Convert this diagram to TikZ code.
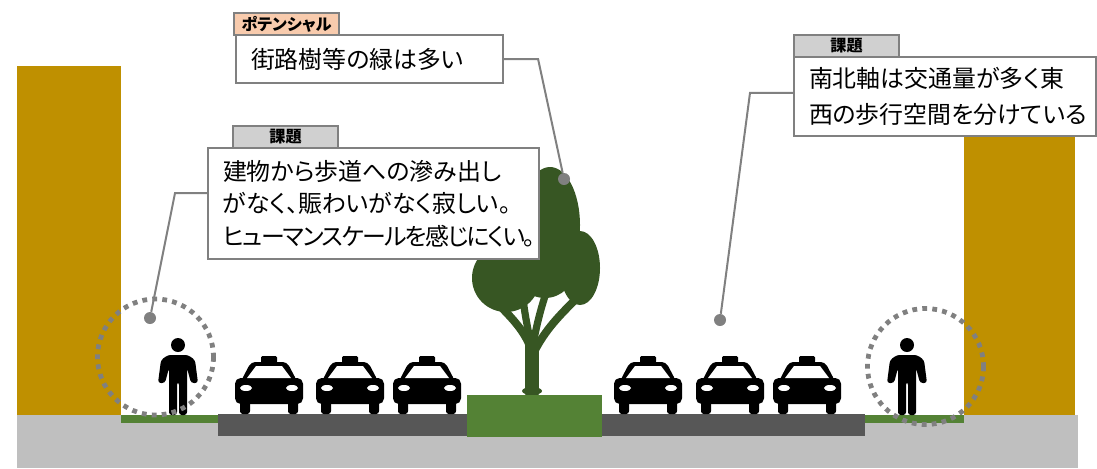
\documentclass[tikz,border=0pt]{standalone}
\usepackage{fontspec}
\newfontfamily\jpfont[RawFeature=+palt]{Noto Sans CJK JP}
\usepackage{tikz}
\usetikzlibrary{positioning}

\definecolor{wall}{HTML}{BF9000}
\definecolor{pave}{HTML}{BFBFBF}
\definecolor{asphalt}{HTML}{575757}
\definecolor{verge}{HTML}{548235}
\definecolor{foliage}{HTML}{375623}
\definecolor{leader}{HTML}{808080}
\definecolor{tagorange}{HTML}{F8CBAD}
\definecolor{taggray}{HTML}{D0D0D0}

\tikzset{
  note/.style={draw=leader, line width=0.05cm, fill=white, anchor=north west, align=left,
    inner xsep=0.375cm, inner ysep=0pt, font=\jpfont\fontsize{17}{23}\selectfont},
  tag/.style={draw=leader, line width=0.05cm, minimum width=2.625cm, minimum height=0.55cm,
    inner sep=0pt, font=\jpfont\bfseries\fontsize{11.5}{12}\selectfont},
  spot/.style={circle, fill=leader, minimum size=0.3cm, inner sep=0pt},
  leaderline/.style={draw=leader, line width=0.05cm},
  ring/.style={draw=leader, line width=0.12cm, dash pattern=on 0.12cm off 0.13cm},
  branch/.style={draw=foliage, line cap=round},
  pics/person/.style={code={
    \fill (0,-70) circle (7);
    \fill[rounded corners=2pt] (-9,0) -- (-9,-47) -- (-13,-32) -- (-20,-32) -- (-17,-55)
      -- (-10,-60) -- (10,-60) -- (17,-55) -- (20,-32) -- (13,-32) -- (9,-47) -- (9,0)
      -- (1,0) -- (1,-33) -- (-1,-33) -- (-1,0) -- cycle;
  }},
  pics/taxi/.style={code={
    \fill[rounded corners=1pt] (-8,-51) rectangle (8,-58);
    \fill[rounded corners=3pt] (-28,-33) -- (-18,-52) -- (18,-52) -- (28,-33) -- cycle;
    \fill[rounded corners=4pt] (-34,-10) rectangle (34,-36);
    \fill[rounded corners=2pt] (-29,0) rectangle (-19,-14);
    \fill[rounded corners=2pt] (19,0) rectangle (29,-14);
    \fill[white] (-22,-36) -- (-13,-48) -- (13,-48) -- (22,-36) -- cycle;
    \fill[white] (-23,-26) ellipse (6 and 3);
    \fill[white] (23,-26) ellipse (6 and 3);
  }}
}

\begin{document}
\begin{tikzpicture}[x=0.025cm, y=-0.025cm]
\useasboundingbox (0,0) rectangle (1097,468);

% ground, buildings and road
\fill[pave] (17,415) rectangle (1078,468);
\fill[wall] (17,66) rectangle (121,415);
\fill[wall] (964,120) rectangle (1075,415);
\fill[verge] (121,415) rectangle (219,423);
\fill[verge] (865,415) rectangle (964,423);
\fill[asphalt] (218,414) rectangle (467,436);
\fill[asphalt] (601,414) rectangle (865,436);

% street tree
\fill[foliage] (550,225) ellipse (30 and 58);
\fill[foliage] (580,268) ellipse (20 and 37);
\fill[foliage] (506,278) ellipse (34 and 34);
\fill[foliage] (545,268) ellipse (30 and 30);
\draw[branch, line width=0.35cm] (532,393) -- (532,345);
\draw[branch, line width=0.2cm] (532,352) .. controls (526,332) and (512,318) .. (496,302);
\draw[branch, line width=0.18cm] (531,345) .. controls (527,325) and (524,310) .. (522,290);
\draw[branch, line width=0.18cm] (533,345) .. controls (537,322) and (542,305) .. (547,290);
\draw[branch, line width=0.2cm] (534,352) .. controls (545,330) and (560,315) .. (575,300);
\fill[foliage] (532,391) ellipse (10 and 4);
\fill[verge] (467,395) rectangle (602,437);

% pedestrians and taxis
\pic at (178,415) {person};
\pic at (907,415) {person};
\foreach \cx in {269,350,427,648,730,807}
  \pic at (\cx,414) {taxi};

\draw[ring] (155.5,357) circle (58);
\draw[ring] (925.5,366.5) circle (58);

% callouts
\node[note, text width=5.925cm, minimum height=1.2cm] (green) at (235,34) {街路樹等の緑は多い};
\node[note, text width=7.525cm, minimum height=2.775cm] (issueL) at (207,147)
  {建物から歩道への滲み出し\\がなく、賑わいがなく寂しい。\\{\addfontfeature{LetterSpace=-7}ヒューマンスケールを感じにくい。}};
\node[note, text width=6.8cm, minimum height=1.975cm, font=\jpfont\fontsize{17}{25}\selectfont] (issueR) at (793,56)
  {南北軸は交通量が多く東\\西の歩行空間を分けている};

\node[tag, fill=tagorange, above right=-0.05cm and -0.05cm of green.north west] (tagG) {ポテンシャル};
\node[tag, fill=taggray, above right=-0.05cm and 0.625cm of issueL.north west] (tagL) {課題};
\node[tag, fill=taggray, above right=-0.05cm and 0cm of issueR.north west] (tagR) {課題};

\node[spot] (spotTree) at (564,179) {};
\node[spot] (spotWalk) at (150,318) {};
\node[spot] (spotAxis) at (720,320) {};
\draw[leaderline] (green.east) -- ++(34,0) -- (spotTree);
\draw[leaderline] ([yshift=0.26cm]issueL.west) -- ++(-32,0) -- (spotWalk);
\draw[leaderline] ([yshift=0.09cm]issueR.west) -- ++(-43,0) -- (spotAxis);
\end{tikzpicture}
\end{document}
